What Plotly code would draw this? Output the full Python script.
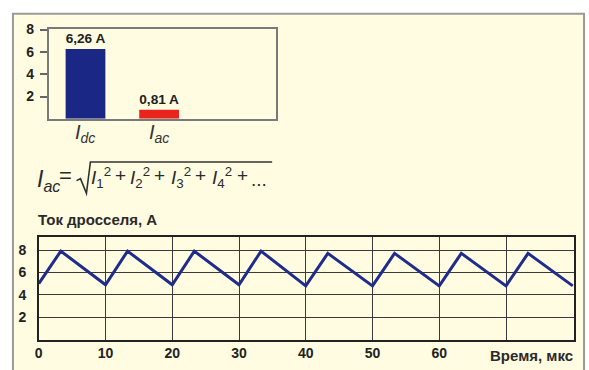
import plotly.graph_objects as go

# Bar chart: DC and AC components of the inductor current
currents = ["Idc", "Iac"]
current_labels = ["<i>I</i><sub><i>dc</i></sub>", "<i>I</i><sub><i>ac</i></sub>"]
current_values = [6.26, 0.81]
bar_colors = ["#1B2785", "#E8241C"]

# Inductor current waveform (time in microseconds, current in amperes)
time_us = [0, 3.3, 10, 13.3, 20, 23.3, 30, 33.3, 40, 43.3, 50, 53.3, 60, 63.3, 70, 73.3, 80]
current_a = [5.0, 7.9, 4.9, 7.9, 4.9, 7.9, 4.9, 7.9, 4.8, 7.7, 4.8, 7.7, 4.8, 7.7, 4.8, 7.7, 4.8]

time_ticks = [0, 10, 20, 30, 40, 50, 60, 70]
time_ticktext = ["0", "10", "20", "30", "40", "50", "60", ""]
amp_ticks = [2, 4, 6, 8]

W, H = 589, 370
BG = "#FFFCE1"
FONT = "Liberation Sans"


def fx(x):
    return x / W


def fy(y):
    return 1 - y / H


fig = go.Figure()

fig.add_trace(go.Bar(
    x=currents, y=current_values,
    marker=dict(color=bar_colors, line=dict(width=0)),
    width=0.54,
    texttemplate="%{y:.2f} A", textposition="outside",
    textfont=dict(family=FONT, size=14, color="#222222", weight="bold"),
    cliponaxis=False,
    xaxis="x", yaxis="y", showlegend=False, hoverinfo="skip",
))

fig.add_trace(go.Scatter(
    x=time_us, y=current_a, mode="lines",
    line=dict(color="#1F2C8C", width=3),
    xaxis="x2", yaxis="y2", showlegend=False, hoverinfo="skip",
))

tickfont = dict(family=FONT, size=14, color="#222222", weight="bold")

fig.update_layout(
    width=W, height=H,
    margin=dict(l=0, r=0, t=0, b=0),
    paper_bgcolor="white",
    plot_bgcolor="rgba(0,0,0,0)",
    separators=", ",
    xaxis=dict(
        domain=[fx(45), fx(274)], anchor="y",
        type="category", range=[-0.5, 2.59],
        showticklabels=False,
        showline=True, mirror=True, linecolor="#7A7A7A", linewidth=1.5,
        showgrid=False, ticks="", fixedrange=True,
    ),
    yaxis=dict(
        domain=[fy(114), fy(22)], anchor="x",
        range=[0, 8.09], tickvals=amp_ticks,
        tickfont=tickfont,
        ticks="outside", ticklen=7, tickcolor="#666666", tickwidth=1.5,
        ticklabelstandoff=3,
        showline=True, mirror=True, linecolor="#7A7A7A", linewidth=1.5,
        showgrid=False, zeroline=False,
    ),
    xaxis2=dict(
        domain=[fx(35), fx(574)], anchor="y2",
        range=[0, 80.2], tickvals=time_ticks, ticktext=time_ticktext,
        tickfont=tickfont, ticks="", ticklabelstandoff=0,
        showgrid=True, gridcolor="#3A3A3A", gridwidth=1,
        showline=True, mirror=True, linecolor="#222222", linewidth=1.5,
        zeroline=False,
    ),
    yaxis2=dict(
        domain=[fy(339), fy(234)], anchor="x2",
        range=[0, 9.2], tickvals=amp_ticks,
        tickfont=tickfont, ticks="", ticklabelstandoff=8,
        showgrid=True, gridcolor="#3A3A3A", gridwidth=1,
        showline=True, mirror=True, linecolor="#222222", linewidth=1.5,
        zeroline=False,
    ),
)

shapes = [
    # cream panel with grey frame
    dict(type="rect", xref="paper", yref="paper", layer="below",
         x0=fx(9), x1=fx(584), y0=fy(375), y1=fy(7),
         fillcolor=BG, line=dict(color="#9A9A9A", width=2)),
    # radical sign of the formula
    dict(type="path", xref="paper", yref="paper",
         path=(f"M {fx(73)} {fy(177)} L {fx(77)} {fy(175)} L {fx(83)} {fy(190)} "
               f"L {fx(87)} {fy(158)} L {fx(270)} {fy(158)}"),
         line=dict(color="#333333", width=1.6)),
]
fig.update_layout(shapes=shapes)

ann = []


def text(x, y, s, size, xanchor="center", bold=False, italic=False,
         color="#2A2A2A", xref="paper"):
    ann.append(dict(xref=xref, yref="paper",
                    x=fx(x) if xref == "paper" else x, y=fy(y), text=s,
                    showarrow=False, xanchor=xanchor, yanchor="middle",
                    borderpad=0,
                    font=dict(family=FONT, size=size, color=color,
                              style="italic" if italic else "normal",
                              weight="bold" if bold else "normal")))


# category names under the bars
for cat, label in zip(currents, current_labels):
    text(cat, 129, label, 20, color="#333333", xref="x")

# I_ac = sqrt(I1^2 + I2^2 + I3^2 + I4^2 + ...)
text(32, 177, "<i>I</i><sub><i>ac</i></sub>", 23, xanchor="left")
text(62, 172, "=", 22)
for xi, k in [(87, "1"), (126, "2"), (167, "3"), (208, "4")]:
    text(xi, 174, f"<i>I</i><sub>{k}</sub><sup>2</sup>", 19, xanchor="left")
for xp in [117, 157, 198, 240]:
    text(xp, 172, "+", 19)
text(257, 176, "...", 19)

text(94.5, 217, "Ток дросселя, А", 15, bold=True)
text(574, 355, "Время, мкс", 15, xanchor="right", bold=True)

fig.update_layout(annotations=ann)

fig.write_html("out.html")
